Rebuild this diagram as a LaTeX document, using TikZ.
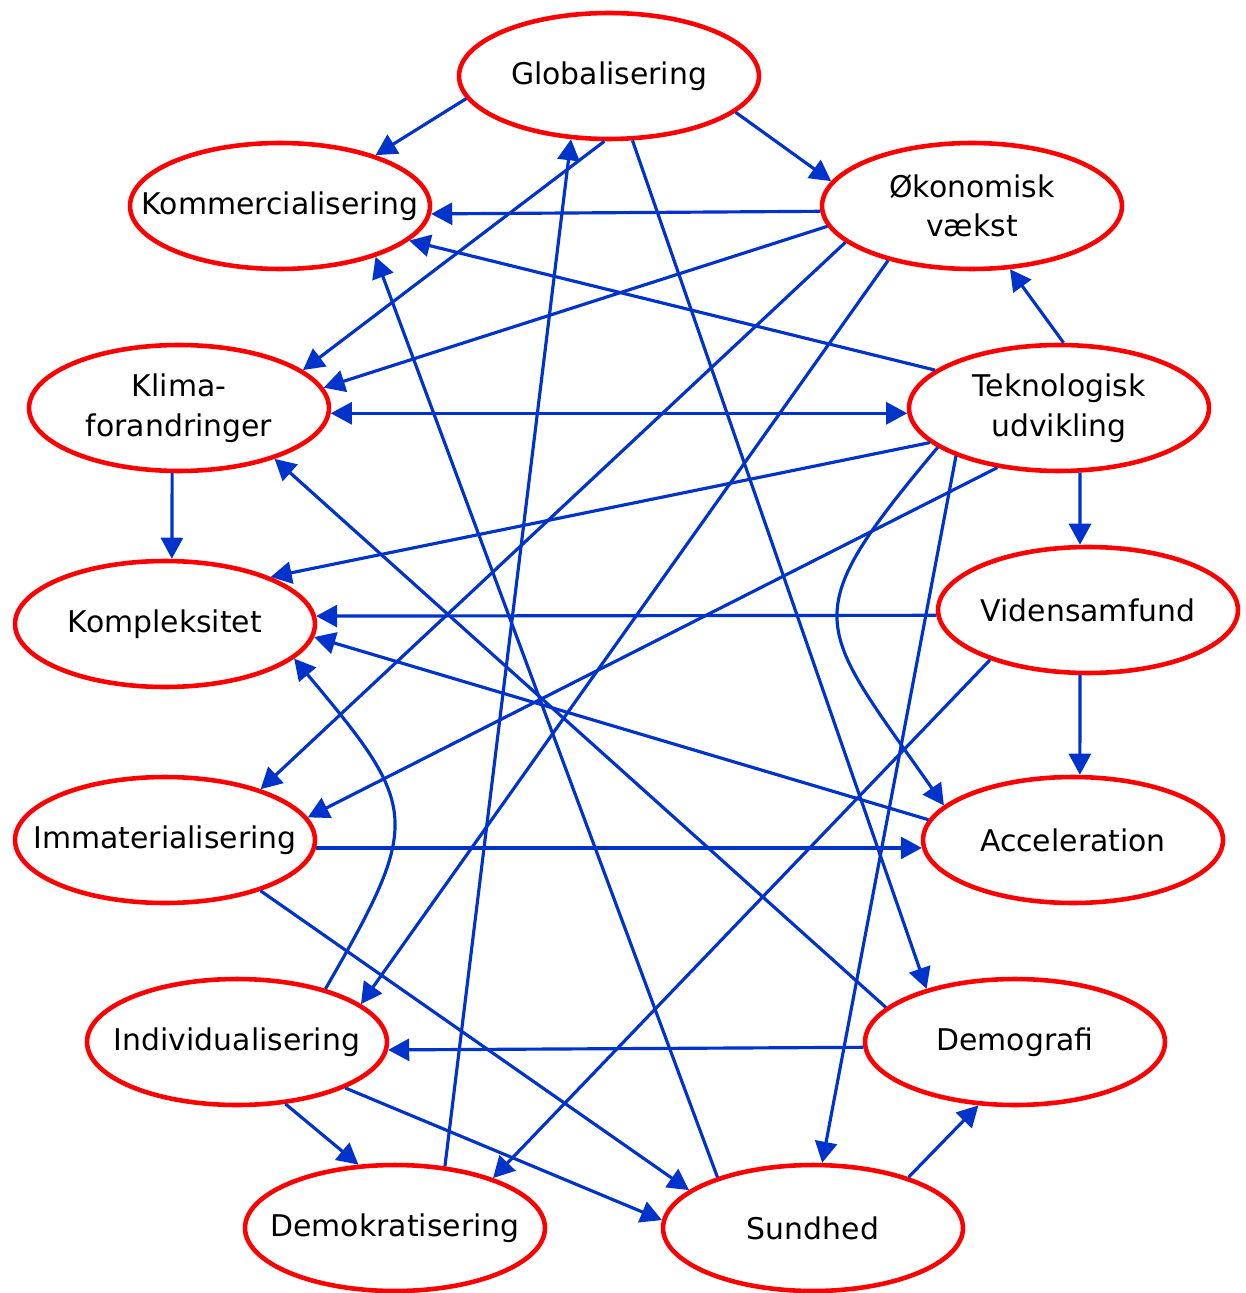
\documentclass[tikz,border=0pt]{standalone}
\usepackage{fontspec}
\setmainfont{DejaVu Sans}
\usepackage{tikz}
\usetikzlibrary{arrows.meta, shapes.geometric, positioning}
\definecolor{linkblue}{RGB}{0,51,204}
\definecolor{ringred}{RGB}{255,0,0}
\tikzset{
    concept/.style={
        ellipse,
        draw=ringred,
        line width=2.6pt,
        minimum width=6.0cm,
        minimum height=2.52cm,
        inner xsep=-20pt,
        inner ysep=0pt,
        fill=white,
        align=center,
        font=\fontsize{17}{22.5}\selectfont
    },
    link/.style={
        draw=linkblue,
        line width=1.8pt,
        -{Triangle[length=12pt,width=12.5pt]}
    },
    dlink/.style={
        draw=linkblue,
        line width=1.8pt,
        {Triangle[length=12pt,width=12.5pt]}-{Triangle[length=12pt,width=12.5pt]}
    }
}

\begin{document}
\begin{tikzpicture}[x=0.02cm, y=-0.02cm]

\useasboundingbox (0,0) rectangle (1245,1293);

% Concepts
\node[concept] (glob) at (609,76) {Globalisering};
\node[concept] (komm) at (280,206) {Kommercialisering};
\node[concept] (oko) at (972,206) {Økonomisk\\vækst};
\node[concept] (klima) at (179,408) {Klima-\\forandringer};
\node[concept] (tek) at (1059,408) {Teknologisk\\udvikling};
\node[concept] (kompl) at (165,624) {Kompleksitet};
\node[concept] (viden) at (1088,610) {Vidensamfund};
\node[concept] (immat) at (165,840) {Immaterialisering};
\node[concept] (accel) at (1073,840) {Acceleration};
\node[concept] (indiv) at (237,1042) {Individualisering};
\node[concept] (demog) at (1015,1042) {Demografi};
\node[concept] (demok) at (395,1228) {Demokratisering};
\node[concept] (sund) at (813,1228) {Sundhed};

% From Globalisering
\draw[link] (glob.189) -- (komm.28);
\draw[link] (glob.344) -- (oko.170);
\draw[link] (glob.266) -- (klima.17);
\draw[link] (glob.290) -- (demog.149);

% From Økonomisk vækst
\draw[link] (oko.182.5) -- (komm.357.5);
\draw[link] (oko.188.5) -- (klima.8.7);
\draw[link] (oko.196) -- (immat.28);
\draw[link] (oko.213) -- (indiv.17);

% From Teknologisk udvikling
\draw[link] (tek.86.5) -- (oko.301);
\draw[link] (tek.163) -- (komm.345);
\draw[dlink] (klima.358) -- (tek.182);
\draw[link] (tek.195.5) -- (kompl.24.7);
\draw[link] (tek.224) -- (immat.9);
\draw[link] (tek.288) -- (viden.97);
\draw[link] (tek.198) to[out=230, in=125, looseness=1.6] (accel.165);
\draw[link] (tek.205.7) -- (sund.82);

% Klima
\draw[link] (klima.264) -- (kompl.84);

% From Vidensamfund
\draw[link] (viden.182.3) -- (kompl.3);
\draw[link] (viden.263) -- (accel.84);
\draw[link] (viden.207.5) -- (demok.27);

% Acceleration, Immaterialisering
\draw[link] (accel.172.5) -- (kompl.355);
\draw[link] (immat.357) -- (accel.183);
\draw[link] (immat.332) -- (sund.163);

% From Individualisering
\draw[link] (indiv.31) to[out=60, in=-50, looseness=1.5] (kompl.345);
\draw[link] (indiv.308) -- (demok.120);
\draw[link] (indiv.337.5) -- (sund.177);

% From Demografi
\draw[link] (demog.182.3) -- (indiv.357.8);
\draw[link] (demog.165.7) -- (klima.332);

% From Sundhed, Demokratisering
\draw[link] (sund.28) -- (demog.240.7);
\draw[link] (sund.152) -- (komm.332);
\draw[link] (demok.51.3) -- (glob.239.6);

\end{tikzpicture}
\end{document}
